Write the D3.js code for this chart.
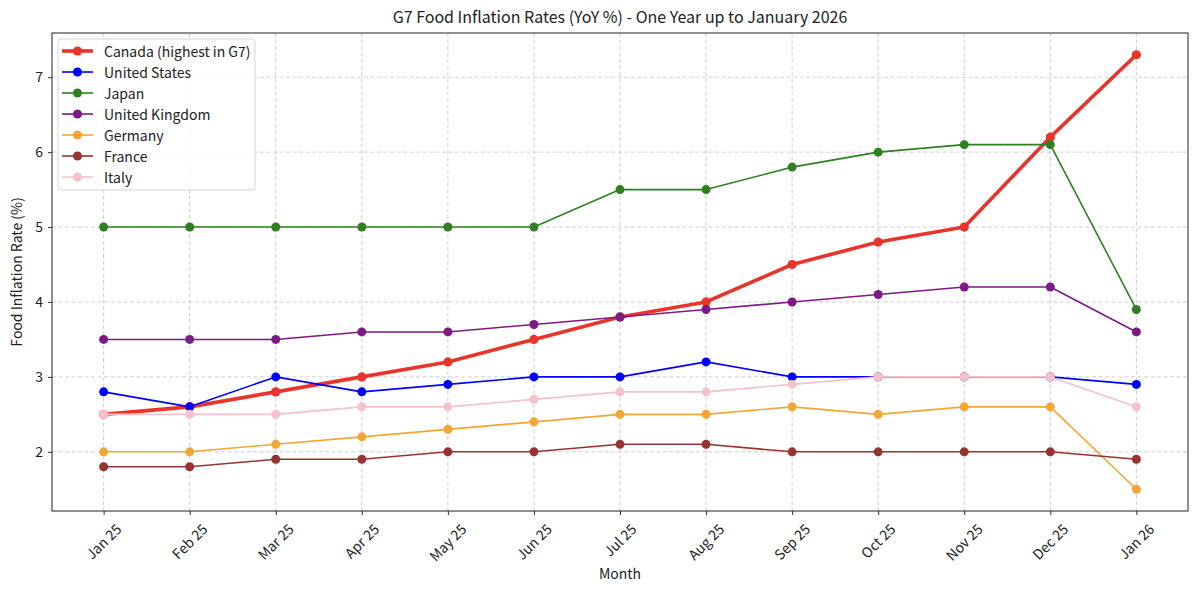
<!DOCTYPE html>
<html><head><meta charset="utf-8">
<script src="https://cdn.jsdelivr.net/npm/d3@7"></script>
<style>body{margin:0;background:#fff;} text{font-family:"Noto Sans CJK SC","Noto Sans",sans-serif;fill:#222;}</style>
</head><body>
<svg id="c" width="1200" height="595"></svg>
<script>
const months = ["Jan 25","Feb 25","Mar 25","Apr 25","May 25","Jun 25","Jul 25","Aug 25","Sep 25","Oct 25","Nov 25","Dec 25","Jan 26"];
const canada = [2.5,2.6,2.8,3.0,3.2,3.5,3.8,4.0,4.5,4.8,5.0,6.2,7.3];
const unitedStates = [2.8,2.6,3.0,2.8,2.9,3.0,3.0,3.2,3.0,3.0,3.0,3.0,2.9];
const japan = [5.0,5.0,5.0,5.0,5.0,5.0,5.5,5.5,5.8,6.0,6.1,6.1,3.9];
const unitedKingdom = [3.5,3.5,3.5,3.6,3.6,3.7,3.8,3.9,4.0,4.1,4.2,4.2,3.6];
const germany = [2.0,2.0,2.1,2.2,2.3,2.4,2.5,2.5,2.6,2.5,2.6,2.6,1.5];
const france = [1.8,1.8,1.9,1.9,2.0,2.0,2.1,2.1,2.0,2.0,2.0,2.0,1.9];
const italy = [2.5,2.5,2.5,2.6,2.6,2.7,2.8,2.8,2.9,3.0,3.0,3.0,2.6];
const yTicks = [2,3,4,5,6,7];

const series = [
  {name:"Canada (highest in G7)", values:canada, color:"#e8342a", w:3.6, r:4.6},
  {name:"United States", values:unitedStates, color:"#0000ff", w:1.6, r:4.5},
  {name:"Japan", values:japan, color:"#2f8020", w:1.6, r:4.5},
  {name:"United Kingdom", values:unitedKingdom, color:"#7d1a86", w:1.6, r:4.5},
  {name:"Germany", values:germany, color:"#f3a633", w:1.6, r:4.5},
  {name:"France", values:france, color:"#963431", w:1.6, r:4.5},
  {name:"Italy", values:italy, color:"#f5c2cb", w:1.6, r:4.5}
];

const L=52, R=1188, T=33, B=511;
const svg = d3.select("#c");
const x = d3.scaleLinear().domain([-0.6, 12.6]).range([L,R]);
const allV = series.flatMap(s=>s.values);
const lo = d3.min(allV), hi = d3.max(allV), pad=(hi-lo)*0.05;
const y = d3.scaleLinear().domain([lo-pad, hi+pad]).range([B,T]);

// grid
const g = svg.append("g");
g.selectAll(".vg").data(months).join("line")
  .attr("x1",(d,i)=>x(i)).attr("x2",(d,i)=>x(i)).attr("y1",T).attr("y2",B)
  .attr("stroke","#c8c8c8").attr("stroke-width",0.9).attr("stroke-dasharray","4,2.5");
g.selectAll(".hg").data(yTicks).join("line")
  .attr("x1",L).attr("x2",R).attr("y1",d=>y(d)).attr("y2",d=>y(d))
  .attr("stroke","#c8c8c8").attr("stroke-width",0.9).attr("stroke-dasharray","4,2.5");

// axes
const xAxis = d3.axisBottom(x).tickValues(d3.range(months.length)).tickFormat(i=>months[i]).tickSize(4).tickSizeOuter(0);
const xg = svg.append("g").attr("transform",`translate(0,${B})`).call(xAxis);
xg.select(".domain").remove();
xg.selectAll(".tick line").attr("stroke","#333");
xg.selectAll(".tick text").each(function(){
  const t=d3.select(this);
  t.attr("font-size",14).attr("text-anchor","middle").attr("dy",null).attr("dominant-baseline","central");
  const len=this.getComputedTextLength();
  const half=(len+14)*0.7071/2;
  const cy=half+10;
  t.attr("y",cy).attr("x",-1).attr("transform",`rotate(-45,-1,${cy})`);
});
const yAxis = d3.axisLeft(y).tickValues(yTicks).tickFormat(d3.format("d")).tickSize(4).tickSizeOuter(0);
const yg = svg.append("g").attr("transform",`translate(${L},0)`).call(yAxis);
yg.select(".domain").remove();
yg.selectAll(".tick line").attr("stroke","#333");
yg.selectAll(".tick text").attr("font-size",14).attr("x",-9);

svg.append("rect").attr("x",L).attr("y",T).attr("width",R-L).attr("height",B-T)
  .attr("fill","none").attr("stroke","#222").attr("stroke-width",1);

const line = d3.line().x((d,i)=>x(i)).y(d=>y(d));
series.forEach(s=>{
  const sg=svg.append("g");
  sg.append("path").datum(s.values).attr("d",line).attr("fill","none")
    .attr("stroke",s.color).attr("stroke-width",s.w).attr("stroke-linejoin","round");
  sg.selectAll("circle").data(s.values).join("circle")
    .attr("cx",(d,i)=>x(i)).attr("cy",d=>y(d)).attr("r",s.r).attr("fill",s.color);
});

// title & labels
svg.append("text").attr("x",(L+R)/2).attr("y",23).attr("text-anchor","middle").attr("font-size",16).text("G7 Food Inflation Rates (YoY %) - One Year up to January 2026");
svg.append("text").attr("x",(L+R)/2).attr("y",579).attr("text-anchor","middle").attr("font-size",14).text("Month");
svg.append("text").attr("transform",`translate(22,${(T+B)/2}) rotate(-90)`).attr("text-anchor","middle").attr("font-size",14).text("Food Inflation Rate (%)");

// legend
const lg = svg.append("g");
lg.append("rect").attr("x",58).attr("y",39).attr("width",197).attr("height",151).attr("rx",3)
  .attr("fill","#fff").attr("fill-opacity",0.85).attr("stroke","#d5d5d5");
series.forEach((s,i)=>{
  const yy=51+i*21;
  lg.append("line").attr("x1",62).attr("x2",93).attr("y1",yy).attr("y2",yy).attr("stroke",s.color).attr("stroke-width",s.w);
  lg.append("circle").attr("cx",77.5).attr("cy",yy).attr("r",s.r).attr("fill",s.color);
  lg.append("text").attr("x",104).attr("y",yy).attr("dominant-baseline","central").attr("font-size",14).text(s.name);
});
</script>
</body></html>
